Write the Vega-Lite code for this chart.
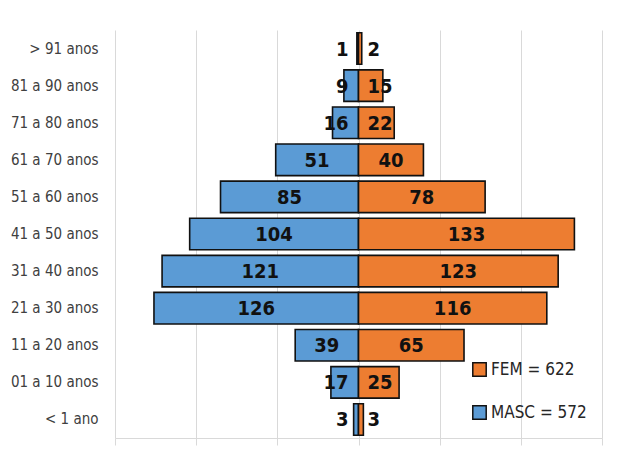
{
  "$schema": "https://vega.github.io/schema/vega-lite/v6.json",
  "autosize": {"type": "none"},
  "padding": {"left": 115, "top": 30, "right": 20, "bottom": 15},
  "width": 487,
  "height": 408,
  "background": "white",
  "config": {
    "view": {"stroke": null},
    "font": "DejaVu Sans Condensed, Roboto, sans-serif"
  },
  "data": {
    "values": [
      {"age": "> 91 anos", "sex": "MASC = 572", "n": 1},
      {"age": "> 91 anos", "sex": "FEM = 622", "n": 2},
      {"age": "81 a 90 anos", "sex": "MASC = 572", "n": 9},
      {"age": "81 a 90 anos", "sex": "FEM = 622", "n": 15},
      {"age": "71 a 80 anos", "sex": "MASC = 572", "n": 16},
      {"age": "71 a 80 anos", "sex": "FEM = 622", "n": 22},
      {"age": "61 a 70 anos", "sex": "MASC = 572", "n": 51},
      {"age": "61 a 70 anos", "sex": "FEM = 622", "n": 40},
      {"age": "51 a 60 anos", "sex": "MASC = 572", "n": 85},
      {"age": "51 a 60 anos", "sex": "FEM = 622", "n": 78},
      {"age": "41 a 50 anos", "sex": "MASC = 572", "n": 104},
      {"age": "41 a 50 anos", "sex": "FEM = 622", "n": 133},
      {"age": "31 a 40 anos", "sex": "MASC = 572", "n": 121},
      {"age": "31 a 40 anos", "sex": "FEM = 622", "n": 123},
      {"age": "21 a 30 anos", "sex": "MASC = 572", "n": 126},
      {"age": "21 a 30 anos", "sex": "FEM = 622", "n": 116},
      {"age": "11 a 20 anos", "sex": "MASC = 572", "n": 39},
      {"age": "11 a 20 anos", "sex": "FEM = 622", "n": 65},
      {"age": "01 a 10 anos", "sex": "MASC = 572", "n": 17},
      {"age": "01 a 10 anos", "sex": "FEM = 622", "n": 25},
      {"age": "< 1 ano", "sex": "MASC = 572", "n": 3},
      {"age": "< 1 ano", "sex": "FEM = 622", "n": 3}
    ]
  },
  "transform": [
    {"calculate": "indexof(datum.sex, 'MASC') === 0 ? -datum.n : datum.n", "as": "signed"},
    {"calculate": "datum.signed / 2", "as": "mid"}
  ],
  "encoding": {
    "y": {
      "field": "age",
      "type": "nominal",
      "sort": ["> 91 anos", "81 a 90 anos", "71 a 80 anos", "61 a 70 anos", "51 a 60 anos", "41 a 50 anos", "31 a 40 anos", "21 a 30 anos", "11 a 20 anos", "01 a 10 anos", "< 1 ano"],
      "scale": {"paddingInner": 0.15, "paddingOuter": 0.075},
      "axis": {
        "title": null,
        "ticks": false,
        "domain": false,
        "labelFontSize": 15,
        "labelColor": "#404040",
        "labelPadding": 17,
        "labelFont": "DejaVu Sans Condensed, Roboto, sans-serif"
      }
    }
  },
  "layer": [
    {
      "mark": {"type": "bar", "stroke": "#111111", "strokeWidth": 1.6},
      "encoding": {
        "x": {
          "field": "signed",
          "type": "quantitative",
          "scale": {"domain": [-150, 150], "nice": false},
          "axis": {
            "title": null,
            "values": [-150, -100, -50, 0, 50, 100, 150],
            "labels": false,
            "grid": true,
            "gridColor": "#d9d9d9",
            "gridWidth": 1,
            "domainColor": "#d9d9d9",
            "tickColor": "#d9d9d9",
            "tickSize": 7
          }
        },
        "color": {
          "field": "sex",
          "type": "nominal",
          "scale": {"domain": ["FEM = 622", "MASC = 572"], "range": ["#ED7D31", "#5B9BD5"]},
          "legend": {
            "title": null,
            "orient": "none",
            "legendX": 356,
            "legendY": 331,
            "symbolType": "square",
            "symbolSize": 180,
            "symbolStrokeColor": "#111111",
            "symbolStrokeWidth": 1.5,
            "symbolOpacity": 1,
            "labelFontSize": 17,
            "labelColor": "#262626",
            "labelFont": "DejaVu Sans Condensed, Roboto, sans-serif",
            "labelOffset": 3,
            "rowPadding": 22
          }
        }
      }
    },
    {
      "transform": [{"filter": "datum.n >= 30"}],
      "mark": {"type": "text", "fontWeight": "bold", "fontSize": 20, "color": "#111111", "baseline": "middle", "align": "center", "dy": 1},
      "encoding": {
        "x": {"field": "mid", "type": "quantitative"},
        "text": {"field": "n", "type": "quantitative"}
      }
    },
    {
      "transform": [{"filter": "datum.n < 30 && datum.signed < 0"}],
      "mark": {"type": "text", "fontWeight": "bold", "fontSize": 20, "color": "#111111", "baseline": "middle", "align": "right", "dx": -10, "dy": 1},
      "encoding": {
        "x": {"datum": 0, "type": "quantitative"},
        "text": {"field": "n", "type": "quantitative"}
      }
    },
    {
      "transform": [{"filter": "datum.n < 30 && datum.signed > 0"}],
      "mark": {"type": "text", "fontWeight": "bold", "fontSize": 20, "color": "#111111", "baseline": "middle", "align": "left", "dx": 9, "dy": 1},
      "encoding": {
        "x": {"datum": 0, "type": "quantitative"},
        "text": {"field": "n", "type": "quantitative"}
      }
    }
  ]
}
